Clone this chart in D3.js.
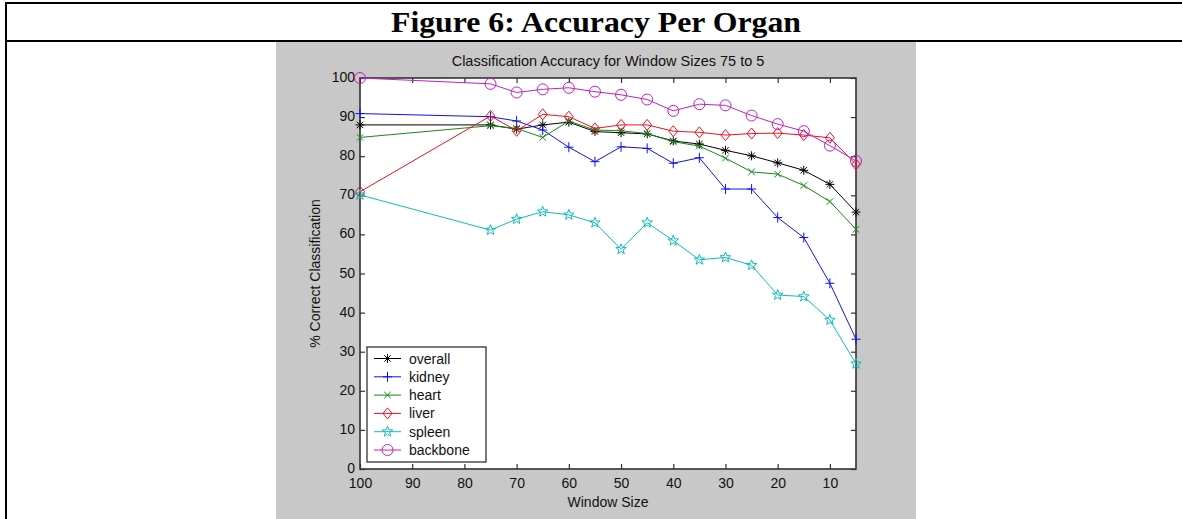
<!DOCTYPE html>
<html>
<head>
<meta charset="utf-8">
<script src="https://cdn.jsdelivr.net/npm/d3@7"></script>
<style>
  html, body { margin: 0; padding: 0; background: #fff; }
  svg text { font-family: "Liberation Sans", Arial, Helvetica, sans-serif; }
</style>
</head>
<body>
<div class="svg"></div>
<script>
// window sizes on the x axis (plotted right to left)
var windowSizes = [100, 75, 70, 65, 60, 55, 50, 45, 40, 35, 30, 25, 20, 15, 10, 5];

// % correct classification
var overall  = [88.0, 88.0, 86.9, 88.0, 88.7, 86.3, 86.0, 85.7, 83.9, 83.1, 81.5, 80.1, 78.3, 76.4, 72.8, 65.7];
var kidney   = [90.9, 90.1, 89.0, 86.7, 82.3, 78.6, 82.4, 82.0, 78.2, 79.6, 71.6, 71.6, 64.3, 59.2, 47.5, 33.2];
var heart    = [84.8, 87.8, 87.1, 84.8, 89.0, 86.7, 86.5, 85.8, 83.7, 82.6, 79.5, 76.0, 75.4, 72.5, 68.4, 61.3];
var liver    = [70.9, 90.3, 86.5, 90.7, 90.1, 87.1, 88.0, 88.0, 86.4, 86.1, 85.4, 85.8, 85.9, 85.4, 84.7, 77.9];
var spleen   = [70.1, 61.1, 63.9, 65.8, 65.0, 63.0, 56.2, 63.0, 58.4, 53.5, 54.1, 52.1, 44.5, 44.1, 38.1, 26.9];
var backbone = [100.0, 98.5, 96.3, 97.1, 97.5, 96.5, 95.7, 94.5, 91.6, 93.3, 93.0, 90.4, 88.2, 86.4, 82.7, 78.8];

var seriesNames = ["overall", "kidney", "heart", "liver", "spleen", "backbone"];
var xTicks = [100, 90, 80, 70, 60, 50, 40, 30, 20, 10];
var yTicks = [0, 10, 20, 30, 40, 50, 60, 70, 80, 90, 100];

var figureTitle = "Figure 6: Accuracy Per Organ";
var chartTitle = "Classification Accuracy for Window Sizes 75 to 5";
var xLabel = "Window Size";
var yLabel = "% Correct Classification";

var seriesValues = [overall, kidney, heart, liver, spleen, backbone];
var colors = ["#000000", "#1010f0", "#158a15", "#f01020", "#10bcbc", "#c020c0"];
var markers = ["asterisk", "plus", "cross", "diamond", "star", "circle"];

var outerWidth = 1182, outerHeight = 519;

var svg = d3.select(".svg").append("svg")
  .attr("width", outerWidth)
  .attr("height", outerHeight);

// page table lines
svg.append("line").attr("x1", 5).attr("x2", outerWidth).attr("y1", 3).attr("y2", 3)
  .attr("stroke", "#000").attr("stroke-width", 2);
svg.append("line").attr("x1", 5).attr("x2", outerWidth).attr("y1", 41).attr("y2", 41)
  .attr("stroke", "#000").attr("stroke-width", 2);
svg.append("line").attr("x1", 6).attr("x2", 6).attr("y1", 2).attr("y2", outerHeight)
  .attr("stroke", "#000").attr("stroke-width", 2);

svg.append("text")
  .attr("x", 596).attr("y", 32)
  .attr("text-anchor", "middle")
  .attr("textLength", 410)
  .attr("lengthAdjust", "spacingAndGlyphs")
  .style("font-family", "'Liberation Serif', 'Times New Roman', serif")
  .style("font-weight", "bold")
  .style("font-size", "30px")
  .text(figureTitle);

// matlab figure gray
svg.append("rect")
  .attr("x", 276).attr("y", 42)
  .attr("width", 640).attr("height", outerHeight - 42)
  .attr("fill", "#c8c8c8");

var margin = {left: 360, top: 78, right: 856, bottom: 469};

var x = d3.scaleLinear().domain([100, 5]).range([margin.left, margin.right]);
var y = d3.scaleLinear().domain([0, 100]).range([margin.bottom, margin.top]);

svg.append("rect")
  .attr("x", margin.left).attr("y", margin.top)
  .attr("width", margin.right - margin.left)
  .attr("height", margin.bottom - margin.top)
  .attr("fill", "#fff");

var axisColor = "#333";

function styleAxis(g) {
  g.select(".domain").remove();
  g.selectAll(".tick line").attr("stroke", axisColor).attr("stroke-width", 1.2);
  g.selectAll(".tick text").attr("fill", "#111").style("font-size", "14px").style("font-family", "'Liberation Sans', Arial, sans-serif");
}

svg.append("g")
  .attr("transform", "translate(0," + margin.bottom + ")")
  .call(d3.axisBottom(x).tickValues(xTicks).tickSizeInner(-5).tickSizeOuter(0).tickPadding(9))
  .call(styleAxis);

svg.append("g")
  .attr("transform", "translate(0," + margin.top + ")")
  .call(d3.axisTop(x).tickValues(xTicks).tickSizeInner(-5).tickSizeOuter(0).tickFormat(""))
  .call(styleAxis);

svg.append("g")
  .attr("transform", "translate(" + margin.left + ",0)")
  .call(d3.axisLeft(y).tickValues(yTicks).tickSizeInner(-5).tickSizeOuter(0).tickPadding(5))
  .call(styleAxis)
  .call(function(g){ g.selectAll(".tick text").attr("dy", "0.25em"); });

svg.append("g")
  .attr("transform", "translate(" + margin.right + ",0)")
  .call(d3.axisRight(y).tickValues(yTicks).tickSizeInner(-5).tickSizeOuter(0).tickFormat(""))
  .call(styleAxis);

// axes box
svg.append("rect")
  .attr("x", margin.left).attr("y", margin.top)
  .attr("width", margin.right - margin.left)
  .attr("height", margin.bottom - margin.top)
  .attr("fill", "none")
  .attr("stroke", axisColor)
  .attr("stroke-width", 1.6);

// titles
svg.append("text")
  .attr("x", (margin.left + margin.right) / 2).attr("y", 66)
  .attr("text-anchor", "middle")
  .style("font-size", "14.5px")
  .attr("fill", "#111")
  .text(chartTitle);

svg.append("text")
  .attr("x", (margin.left + margin.right) / 2).attr("y", 507)
  .attr("text-anchor", "middle")
  .style("font-size", "14px")
  .attr("fill", "#111")
  .text(xLabel);

svg.append("text")
  .attr("transform", "translate(320," + ((margin.top + margin.bottom) / 2) + ") rotate(-90)")
  .attr("text-anchor", "middle")
  .style("font-size", "14px")
  .attr("fill", "#111")
  .text(yLabel);

// marker shapes
function markerPath(type) {
  var s = 4.5;
  switch (type) {
    case "plus":
      return "M" + (-s) + ",0H" + s + "M0," + (-5) + "V5";
    case "cross":
      var c = 3.3;
      return "M" + (-c) + "," + (-c) + "L" + c + "," + c + "M" + (-c) + "," + c + "L" + c + "," + (-c);
    case "asterisk":
      var a = 3.2;
      return "M" + (-s) + ",0H" + s + "M0," + (-s) + "V" + s +
        "M" + (-a) + "," + (-a) + "L" + a + "," + a + "M" + (-a) + "," + a + "L" + a + "," + (-a);
    case "diamond":
      return "M0,-5.5L4.5,0L0,5.5L-4.5,0Z";
    case "star":
      var pts = [];
      for (var i = 0; i < 10; i++) {
        var r = i % 2 === 0 ? 5.5 : 2.3;
        var ang = -Math.PI / 2 + i * Math.PI / 5;
        pts.push([r * Math.cos(ang), r * Math.sin(ang)]);
      }
      return "M" + pts.map(function(p){ return p[0].toFixed(2) + "," + p[1].toFixed(2); }).join("L") + "Z";
    case "circle":
      return "M5.5,0A5.5,5.5 0 1,1 -5.5,0A5.5,5.5 0 1,1 5.5,0Z";
  }
}

var line = d3.line()
  .x(function(d){ return x(d[0]); })
  .y(function(d){ return y(d[1]); });

seriesValues.forEach(function(vals, i) {
  var pts = windowSizes.map(function(w, j){ return [w, vals[j]]; });
  svg.append("path")
    .attr("d", line(pts))
    .attr("fill", "none")
    .attr("stroke", colors[i])
    .attr("stroke-width", 1);
  svg.append("g").selectAll("path")
    .data(pts)
    .enter().append("path")
    .attr("transform", function(d){ return "translate(" + x(d[0]) + "," + y(d[1]) + ")"; })
    .attr("d", markerPath(markers[i]))
    .attr("fill", "none")
    .attr("stroke", colors[i])
    .attr("stroke-width", 1);
});

// legend
var legend = svg.append("g");
legend.append("rect")
  .attr("x", 367).attr("y", 347)
  .attr("width", 119).attr("height", 115)
  .attr("fill", "#fff")
  .attr("stroke", axisColor)
  .attr("stroke-width", 1.3);

seriesNames.forEach(function(name, i) {
  var ly = 358.5 + i * 18.3;
  legend.append("line")
    .attr("x1", 374).attr("x2", 401)
    .attr("y1", ly).attr("y2", ly)
    .attr("stroke", colors[i]).attr("stroke-width", 1);
  legend.append("path")
    .attr("transform", "translate(387.5," + ly + ")")
    .attr("d", markerPath(markers[i]))
    .attr("fill", "none")
    .attr("stroke", colors[i]);
  legend.append("text")
    .attr("x", 409).attr("y", ly + 5)
    .style("font-size", "14px")
    .attr("fill", "#111")
    .text(name);
});
</script>
</body>
</html>
